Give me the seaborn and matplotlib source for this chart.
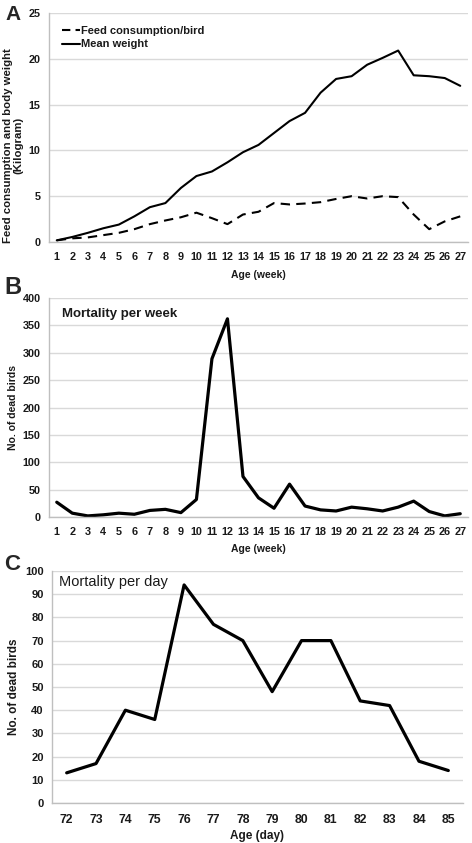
import matplotlib
matplotlib.use("Agg")
import matplotlib.pyplot as plt
from matplotlib.ticker import MultipleLocator, FixedLocator
import seaborn as sns
import pandas as pd

sns.set_style("white")
plt.rcParams['font.family'] = ['Liberation Sans', 'DejaVu Sans']

weeks = list(range(1, 28))
feed_per_bird = [0.18, 0.4, 0.5, 0.75, 1.0, 1.4, 1.95, 2.35, 2.7, 3.2, 2.6, 1.95, 3.0, 3.3,
                 4.25, 4.1, 4.2, 4.35, 4.7, 5.0, 4.75, 5.0, 4.9, 3.0, 1.4, 2.25, 2.8]
mean_weight = [0.18, 0.55, 1.0, 1.5, 1.9, 2.8, 3.8, 4.25, 5.9, 7.2, 7.7, 8.7, 9.8, 10.6,
               11.9, 13.2, 14.1, 16.3, 17.8, 18.1, 19.35, 20.1, 20.9, 18.2, 18.1, 17.9, 17.05]
mortality_week = [27, 7, 2, 4, 7, 5, 12, 14, 8, 32, 289, 362, 74, 35, 16, 60, 20, 13, 11,
                  18, 15, 11, 18, 29, 10, 2, 6]
days = list(range(72, 86))
mortality_day = [13, 17, 40, 36, 94, 77, 70, 48, 70, 70, 44, 42, 18, 14]

W, H = 472, 843
fig = plt.figure(figsize=(W / 100, H / 100), dpi=100)


def box(l, r, t, b):
    return [l / W, (H - b) / H, (r - l) / W, (b - t) / H]


GRID = '#d9d9d9'
SPINE = '#bfbfbf'
TXT = '#1a1a1a'


def style_axes(ax, xmin, xmax, ymax, ystep, tick_fs):
    ax.set_xlim(xmin - 0.5, xmax + 0.5)
    ax.set_ylim(0, ymax)
    ax.yaxis.set_major_locator(MultipleLocator(ystep))
    ax.xaxis.set_major_locator(FixedLocator(list(range(xmin, xmax + 1))))
    ax.xaxis.set_minor_locator(FixedLocator([v + 0.5 for v in range(xmin - 1, xmax + 1)]))
    ax.grid(axis='y', color=GRID, linewidth=1.0)
    ax.grid(axis='x', visible=False)
    ax.set_axisbelow(True)
    for s in ['top', 'right']:
        ax.spines[s].set_visible(False)
    for s in ['left', 'bottom']:
        ax.spines[s].set_color(SPINE)
        ax.spines[s].set_linewidth(1.0)
    ax.tick_params(axis='x', which='major', length=0, pad=7, labelsize=tick_fs, colors=TXT)
    ax.tick_params(axis='x', which='minor', length=4, width=1, color=SPINE, direction='out')
    ax.tick_params(axis='y', which='major', length=3, width=1, color=SPINE, direction='out',
                   pad=3, labelsize=tick_fs, labelcolor=TXT)
    for lab in ax.get_xticklabels() + ax.get_yticklabels():
        lab.set_fontweight('bold')


# Panel A
axA = fig.add_axes(box(49, 468, 13, 242))
sns.lineplot(x=weeks, y=feed_per_bird, ax=axA, color='black', linewidth=1.5,
             linestyle=(0, (4.5, 3)), label='Feed consumption/bird')
sns.lineplot(x=weeks, y=mean_weight, ax=axA, color='black', linewidth=1.5,
             label='Mean weight')
style_axes(axA, 1, 27, 25, 5, 7.8)
axA.set_xlabel('Age (week)', fontsize=7.5, fontweight='bold', color=TXT, labelpad=6)
axA.set_ylabel('Feed consumption and body weight\n(Kilogram)', fontsize=8.2,
               fontweight='bold', color=TXT, linespacing=1.0)
axA.yaxis.set_label_coords(-0.062, 0.42)
leg = axA.legend(loc='upper left', bbox_to_anchor=(0.031, 0.945), frameon=False,
                 handlelength=1.6, handletextpad=0.1, borderpad=0, borderaxespad=0,
                 labelspacing=0.35, prop={'size': 8, 'weight': 'bold'})
leg.legend_handles[0].set_linestyle((0, (4, 2.5)))
for t in leg.get_texts():
    t.set_color(TXT)
fig.text(5 / W, 1 - 14 / H, 'A', fontsize=15, fontweight='bold', va='center', ha='left')

# Panel B
axB = fig.add_axes(box(49, 468, 298, 517))
sns.lineplot(x=weeks, y=mortality_week, ax=axB, color='black', linewidth=2.3)
style_axes(axB, 1, 27, 400, 50, 7.8)
axB.set_xlabel('Age (week)', fontsize=7.5, fontweight='bold', color=TXT, labelpad=5)
axB.set_ylabel('No. of dead birds', fontsize=7.5, fontweight='bold', color=TXT)
axB.yaxis.set_label_coords(-0.074, 0.5)
axB.text(1.34, 371, 'Mortality per week', fontsize=9.5,
         fontweight='bold', color=TXT, va='center', ha='left')
fig.text(4 / W, 1 - 288 / H, 'B', fontsize=17, fontweight='bold', va='center', ha='left')

# Panel C
axC = fig.add_axes(box(52, 463, 571, 803))
sns.lineplot(x=days, y=mortality_day, ax=axC, color='black', linewidth=2.3)
style_axes(axC, 72, 85, 100, 10, 8)
axC.tick_params(axis='x', which='major', labelsize=8.8, pad=8)
for lab in axC.get_xticklabels():
    lab.set_fontweight('bold')
axC.set_xlabel('Age (day)', fontsize=8.5, fontweight='bold', color=TXT, labelpad=3)
axC.set_ylabel('No. of dead birds', fontsize=8.5, fontweight='bold', color=TXT)
axC.yaxis.set_label_coords(-0.078, 0.5)
axC.text(71.74, 95.3, 'Mortality per day', fontsize=10.5, color=TXT,
         va='center', ha='left')
fig.text(4 / W, 1 - 565 / H, 'C', fontsize=16, fontweight='bold', va='center', ha='left')

fig.savefig('out.png', dpi=100)
